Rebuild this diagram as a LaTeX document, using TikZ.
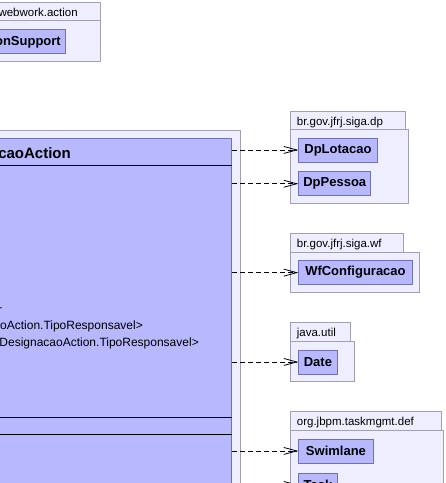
\documentclass[tikz,border=0pt]{standalone}
\usepackage{fontspec}
\setmainfont{Liberation Sans}
\usetikzlibrary{arrows.meta}
\definecolor{pkgfill}{RGB}{238,238,255}
\definecolor{pkgdraw}{RGB}{160,160,178}
\definecolor{clsfill}{RGB}{184,184,255}
\definecolor{clsdraw}{RGB}{112,112,184}
\begin{document}
\begin{tikzpicture}[x=1pt,y=-1pt,
  pkg/.style={draw=pkgdraw,fill=pkgfill,line width=0.9pt},
  cls/.style={draw=clsdraw,fill=clsfill,line width=0.9pt,inner sep=0pt,
    font=\fontsize{13}{15}\selectfont\bfseries},
  pkgname/.style={inner sep=0pt,font=\fontsize{11.5}{13}\selectfont,anchor=base west},
  attr/.style={inner sep=0pt,font=\fontsize{12}{14}\selectfont,anchor=base east},
  cmpline/.style={draw=black,line width=0.9pt},
  dep/.style={draw=black,line width=0.8pt,dash pattern=on 5pt off 3pt,
    -{Straight Barb[length=13pt,width=7pt]}}
]
\useasboundingbox (0,0) rectangle (446,483);
\clip (0,0) rectangle (446,483);

% ---- top package (webwork.action)
\draw[pkg] (-60,2) rectangle (100,20);
\draw[pkg] (-60,20) rectangle (100,61);
\node[pkgname,anchor=base east] (webname) at (78,16.5) {webwork.action};
\node[cls,minimum width=130pt,minimum height=24pt,anchor=north east] (asup) at (65.7,29) {};
\node[inner sep=0pt,font=\fontsize{13}{15}\selectfont\bfseries,anchor=base east] (asupname) at (61,45.5) {onSupport};

% ---- main package and class
\draw[pkg] (-80,130) rectangle (240,560);
\node[cls,minimum width=310pt,minimum height=420pt,anchor=north east] (main) at (232,138) {};
\draw[cmpline] ([yshift=-27pt]main.north west) -- ([yshift=-27pt]main.north east);
\draw[cmpline] ([yshift=-279.3pt]main.north west) -- ([yshift=-279.3pt]main.north east);
\draw[cmpline] ([yshift=-296.7pt]main.north west) -- ([yshift=-296.7pt]main.north east);
\node[inner sep=0pt,font=\fontsize{15}{17}\selectfont\bfseries,anchor=base east] (mainname) at (71,158.3) {caoAction};
\node[attr] (a0) at (2.5,311) {-};
\node[attr] (a1) at (143,329) {oAction.TipoResponsavel>};
\node[attr] (a2) at (199,346.5) {DesignacaoAction.TipoResponsavel>};

% ---- br.gov.jfrj.siga.dp
\draw[pkg] (290,111.7) rectangle (405.5,129.3);
\draw[pkg] (290,129.3) rectangle (408,203);
\node[pkgname] (dpname) at (296.7,125.3) {br.gov.jfrj.siga.dp};
\node[cls,minimum width=78.4pt,minimum height=24pt,anchor=north west] (dplot) at (298.3,137.5) {DpLotacao};
\node[cls,minimum width=72pt,minimum height=24pt,anchor=north west] (dppes) at (298.3,171.3) {DpPessoa};

% ---- br.gov.jfrj.siga.wf
\draw[pkg] (290,233.7) rectangle (403.3,252.7);
\draw[pkg] (290,252.7) rectangle (419.3,292.3);
\node[pkgname] (wfname) at (296.7,247.5) {br.gov.jfrj.siga.wf};
\node[cls,minimum width=113.4pt,minimum height=24pt,anchor=north west] (wfconf) at (298.3,260.2) {WfConfiguracao};

% ---- java.util
\draw[pkg] (290,322.7) rectangle (350,341.7);
\draw[pkg] (290,341.7) rectangle (354.3,381);
\node[pkgname] (juname) at (296.7,336.5) {java.util};
\node[cls,minimum width=38.4pt,minimum height=24pt,anchor=north west] (date) at (298.3,349.5) {Date};

% ---- org.jbpm.taskmgmt.def
\draw[pkg] (290,411.7) rectangle (441.3,430);
\draw[pkg] (290,430) rectangle (443.3,560);
\node[pkgname] (tmname) at (296.7,425.5) {org.jbpm.taskmgmt.def};
\node[cls,minimum width=74.4pt,minimum height=24pt,anchor=north west] (swim) at (298.3,438.5) {Swimlane};
\node[cls,minimum width=38.4pt,minimum height=24pt,anchor=north west] (task) at (298.3,472.5) {Task};

% ---- dependencies
\draw[dep] (main.east |- dplot.west) -- (dplot.west);
\draw[dep] (main.east |- dppes.west) -- (dppes.west);
\draw[dep] (main.east |- wfconf.west) -- (wfconf.west);
\draw[dep] (main.east |- date.west) -- (date.west);
\draw[dep] (main.east |- swim.west) -- (swim.west);
\draw[dep] (main.east |- task.west) -- (task.west);
\end{tikzpicture}
\end{document}
